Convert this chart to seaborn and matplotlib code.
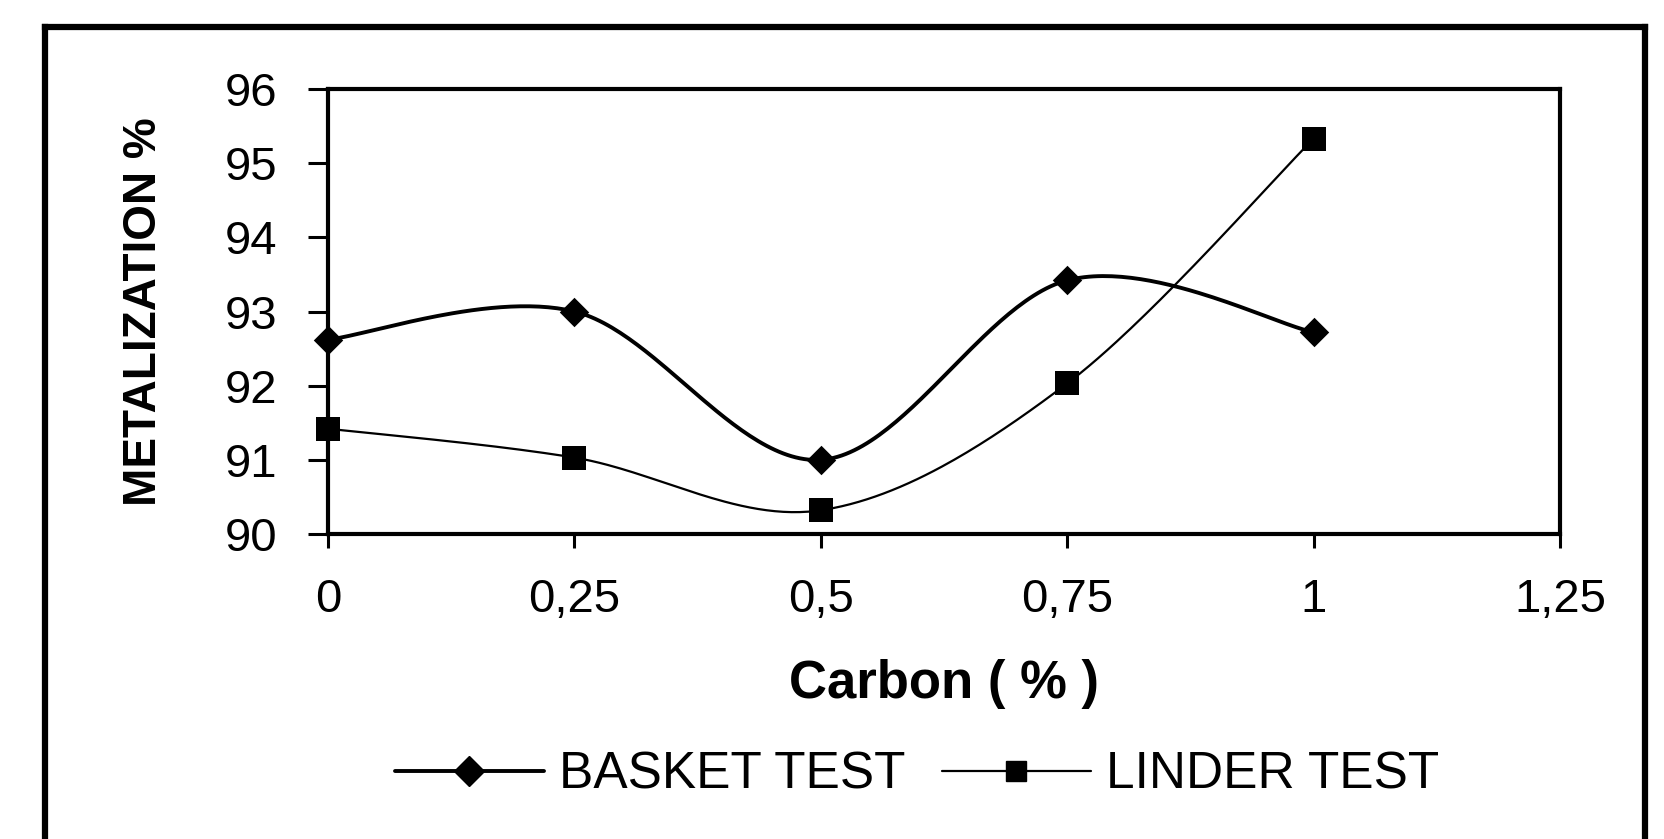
import numpy as np
import pandas as pd
import matplotlib
matplotlib.use("Agg")
import matplotlib.pyplot as plt
from matplotlib.lines import Line2D
import seaborn as sns

# ---- data ----
carbon = [0.0, 0.25, 0.5, 0.75, 1.0]
basket = [92.62, 93.0, 91.0, 93.42, 92.72]
linder = [91.42, 91.03, 90.32, 92.03, 95.33]
series_names = ["BASKET TEST", "LINDER TEST"]
x_ticks = [0.0, 0.25, 0.5, 0.75, 1.0, 1.25]
x_ticklabels = ["0", "0,25", "0,5", "0,75", "1", "1,25"]
y_ticks = [90, 91, 92, 93, 94, 95, 96]
x_label = "Carbon ( % )"
y_label = "METALIZATION %"

sns.set_style("white")
plt.rcParams["font.family"] = ["Liberation Sans", "DejaVu Sans"]
plt.rcParams["text.color"] = "black"
plt.rcParams["axes.labelcolor"] = "black"
plt.rcParams["xtick.color"] = "black"
plt.rcParams["ytick.color"] = "black"


def smooth(xs, ys, n=60):
    """Excel-style smoothed line (Catmull-Rom cubic Bezier) through the data points."""
    P = np.column_stack([xs, ys]).astype(float)
    m = len(P)
    out = []
    for i in range(m - 1):
        p0 = P[max(i - 1, 0)]
        p1 = P[i]
        p2 = P[i + 1]
        p3 = P[min(i + 2, m - 1)]
        c1 = p1 + (p2 - p0) / 6.0
        c2 = p2 - (p3 - p1) / 6.0
        t = np.linspace(0, 1, n)[:, None]
        seg = ((1 - t) ** 3) * p1 + 3 * ((1 - t) ** 2) * t * c1 + 3 * (1 - t) * t ** 2 * c2 + t ** 3 * p2
        out.append(seg if i == 0 else seg[1:])
    c = np.vstack(out)
    return c[:, 0], c[:, 1]


W, H = 1664, 839
fig = plt.figure(figsize=(W / 100, H / 100), dpi=100)
fig.patch.set_facecolor("white")

L, R, T, B = 328, 1560, 89, 534
ax = fig.add_axes([L / W, 1 - B / H, (R - L) / W, (B - T) / H])
ax.set_facecolor("white")

styles = [
    dict(y=basket, marker="D", ms=15, lw=2.8),
    dict(y=linder, marker="s", ms=17, lw=1.6),
]
for name, st in zip(series_names, styles):
    sx, sy = smooth(carbon, st["y"])
    curve = pd.DataFrame({"x": sx, "y": sy})
    sns.lineplot(data=curve, x="x", y="y", sort=False, estimator=None, ax=ax,
                 color="black", linewidth=st["lw"], clip_on=False)
    pts = pd.DataFrame({"x": carbon, "y": st["y"]})
    sns.scatterplot(data=pts, x="x", y="y", ax=ax, marker=st["marker"],
                    s=st["ms"] ** 2, color="black", edgecolor="black",
                    linewidth=0, clip_on=False, zorder=5)

ax.set_xlim(0, 1.25)
ax.set_ylim(90, 96)
ax.set_xticks(x_ticks)
ax.set_xticklabels(x_ticklabels)
ax.set_yticks(y_ticks)
ax.set_yticklabels([str(v) for v in y_ticks])

for sp in ax.spines.values():
    sp.set_visible(True)
    sp.set_color("black")
    sp.set_linewidth(3.0)

ax.tick_params(axis="y", direction="out", length=14.4, width=2.2, pad=22,
               labelsize=34, colors="black", left=True)
ax.tick_params(axis="x", direction="out", length=10, width=2.2, pad=22,
               labelsize=34, colors="black", bottom=True)

ax.set_xlabel(x_label, fontsize=38, fontweight="bold", labelpad=26, color="black")
ax.set_ylabel(y_label, fontsize=33, fontweight="bold", labelpad=42, color="black")

# outer chart frame (left, top, right edges)
fx0, fx1, fy = 45 / W, 1645 / W, 1 - 27 / H
for xs_, ys_ in [([fx0, fx0], [0, fy]), ([fx0, fx1], [fy, fy]), ([fx1, fx1], [fy, 0])]:
    fig.add_artist(Line2D(xs_, ys_, transform=fig.transFigure, color="black",
                          linewidth=4.5, solid_capstyle="projecting"))

handles = [
    Line2D([], [], color="black", lw=2.8, marker="D", markersize=15),
    Line2D([], [], color="black", lw=1.6, marker="s", markersize=14),
]
fig.legend(handles, series_names, loc="center", bbox_to_anchor=(917 / W, 1 - 775 / H),
           ncol=2, frameon=False, fontsize=37, handlelength=2.9, handletextpad=0.3,
           columnspacing=0.7)

fig.savefig("out.png", dpi=100, facecolor="white")
